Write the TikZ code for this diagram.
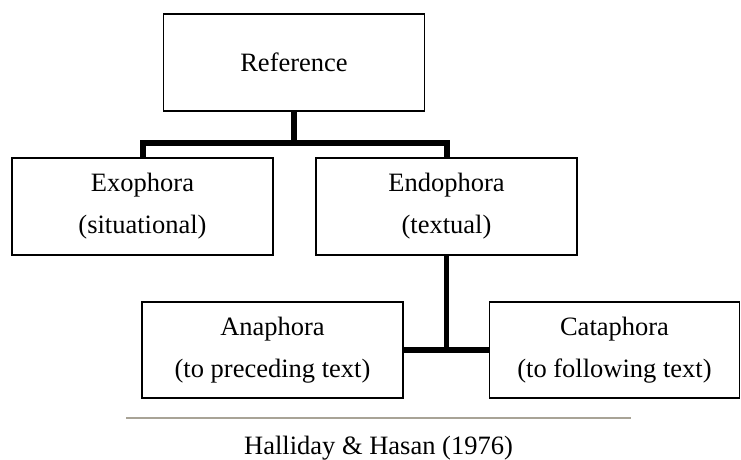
\documentclass[tikz,border=0pt]{standalone}
\usepackage{fontspec}
\setmainfont{Liberation Serif}
\usepackage{tikz}
\definecolor{rulegray}{RGB}{168,163,150}

\begin{document}
\begin{tikzpicture}[x=1pt,y=-1pt,
  boxstyle/.style={rectangle,draw,line width=1.5pt,minimum width=261pt,minimum height=97pt,
    align=center,inner sep=0pt,font=\fontsize{26.5}{42}\selectfont},
  barstyle/.style={line width=6pt,line join=miter}]
 \useasboundingbox (0,0) rectangle (741,460);

 \node [boxstyle] (ref)  at (294,62.5)   {Reference};
 \node [boxstyle] (exo)  at (142.5,206.5) {Exophora\\(situational)};
 \node [boxstyle] (endo) at (446.5,206.5) {Endophora\\(textual)};
 \node [boxstyle,minimum height=96pt] (ana) at (272.5,350) {Anaphora\\(to preceding text)};
 \node [boxstyle,minimum height=96pt,minimum width=250pt] (cata) at (614.5,350) {Cataphora\\(to following text)};

 \coordinate (fork) at (294,143);
 \draw [barstyle] (ref.south) -- (fork);
 \draw [barstyle] (exo.north) |- (fork) -| (endo.north);
 \draw [barstyle,line width=5.5pt] (endo.south) -- (endo.south |- ana.east);
 \draw [barstyle,line width=5.5pt] (ana.east) -- (cata.west);

 \coordinate (ruleA) at (126,418);
 \coordinate (ruleB) at (631,418);
 \draw [rulegray,line width=1.5pt] (ruleA) -- (ruleB);
 \node [font=\fontsize{26.5}{42}\selectfont] (src) at (378.5,448) {Halliday \& Hasan (1976)};
\end{tikzpicture}
\end{document}
